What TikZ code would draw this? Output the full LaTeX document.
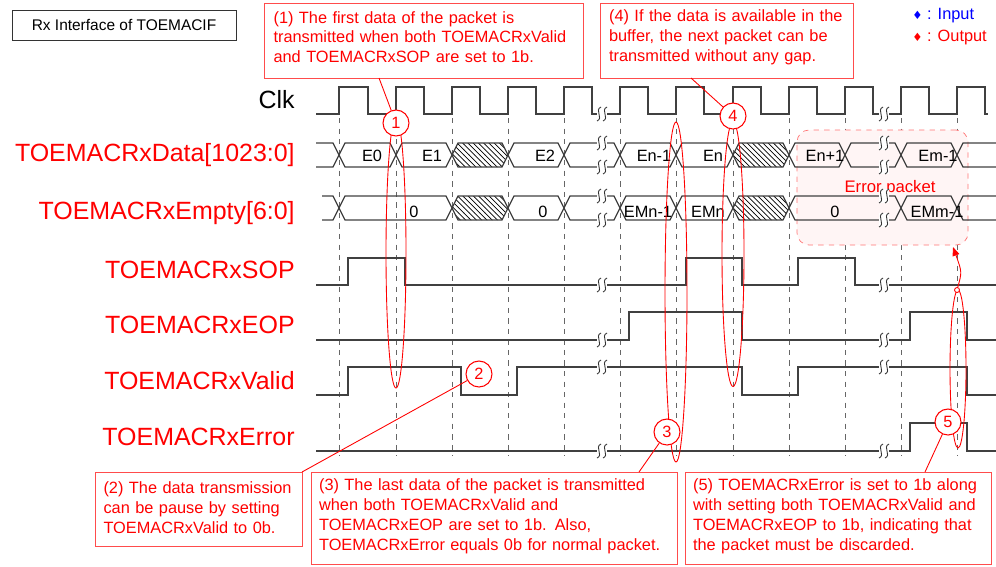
\documentclass[tikz,border=0pt]{standalone}
\usepackage{fontspec}
\setmainfont{Liberation Sans}
\newfontfamily\djv{DejaVu Sans}
\usetikzlibrary{shapes.geometric,patterns,arrows.meta}
\newcommand{\hexa}[4][]{\draw[sig,#1] (#2,#4) -- ({#2+6},{#4-12}) -- ({#3-6},{#4-12}) -- (#3,#4) -- ({#3-6},{#4+12}) -- ({#2+6},{#4+12}) -- cycle;}
\newcommand{\brk}[2]{\fill[white] ({#1-5},{#2-7}) rectangle ({#1+5},{#2+7});
 \draw[line width=0.5pt,black!80] ({#1-5},{#2+7}) .. controls ({#1+2},{#2+4}) and ({#1-8},{#2-4}) .. ({#1-1},{#2-7});
 \draw[line width=0.5pt,black!80] ({#1+1},{#2+7}) .. controls ({#1+8},{#2+4}) and ({#1-2},{#2-4}) .. ({#1+5},{#2-7});}
\begin{document}
\begin{tikzpicture}[x=0.02cm,y=-0.02cm,
 sig/.style={line width=0.7pt,black!75},
 grid/.style={dashed,black!60,line width=0.5pt},
 lab/.style={text=red,font=\fontsize{14.2}{16}\selectfont,anchor=east,inner sep=0},
 bl/.style={font=\fontsize{9.3}{10}\selectfont,inner sep=0},
 cbox/.style={draw=red!70,line width=0.6pt,text=red,align=left,font=\fontsize{9.3}{11.3}\selectfont,inner sep=0,anchor=north west},
 circ/.style={circle,draw=red,line width=0.6pt,text=red,minimum size=0.52cm,inner sep=0,font=\fontsize{9.3}{10}\selectfont,fill=white},
 ell/.style={ellipse,draw=red,line width=0.5pt,inner sep=0},
 cl/.style={red,line width=0.5pt}]
\useasboundingbox (0,0) rectangle (996,566);
% grid
\foreach \x in {339,396,452,508,564,620,676,733,789,845,901,957}
  \draw[grid] (\x,118) -- (\x,456);
% error packet region
\node[draw=red!55,dashed,rounded corners=0.24cm,fill=red!4,minimum width=3.42cm,minimum height=2.3cm,inner sep=0] (ep) at (882.5,187.5) {};
\node[text=red,font=\fontsize{9.5}{10}\selectfont] (eptxt) at (890,188) {Error packet};
% title & legend
\node[draw=black!80,minimum width=4.48cm,minimum height=0.6cm,font=\fontsize{8.8}{10}\selectfont,inner sep=0] (title) at (124,25) {Rx Interface of TOEMACIF};
\node[anchor=west,text=blue,font=\fontsize{9.3}{10}\selectfont,inner sep=0] (lin) at (912,16) {{\djv\fontsize{6.5}{7}\selectfont ♦} : Input};
\node[anchor=west,text=red,font=\fontsize{9.3}{10}\selectfont,inner sep=0] (lout) at (912,37) {{\djv\fontsize{6.5}{7}\selectfont ♦} : Output};
% labels
\node[lab,text=black] (lclk) at (295,100) {Clk};
\node[lab] (ldata) at (295,155) {TOEMACRxData[1023:0]};
\node[lab] (lempty) at (295,213) {TOEMACRxEmpty[6:0]};
\node[lab] (lsop) at (295,270) {TOEMACRxSOP};
\node[lab] (leop) at (295,325) {TOEMACRxEOP};
\node[lab] (lval) at (295,381) {TOEMACRxValid};
\node[lab] (lerr) at (295,437) {TOEMACRxError};
% clock
\draw[sig] (316,114) -- (339,114) -- (339,87) -- (368,87) -- (368,114) -- (396,114) -- (396,87) -- (424,87) -- (424,114)
 -- (452,114) -- (452,87) -- (480,87) -- (480,114) -- (508,114) -- (508,87) -- (536,87) -- (536,114)
 -- (564,114) -- (564,87) -- (592,87) -- (592,114) -- (620,114) -- (620,87) -- (648,87) -- (648,114)
 -- (676,114) -- (676,87) -- (704,87) -- (704,114) -- (733,114) -- (733,87) -- (761,87) -- (761,114)
 -- (789,114) -- (789,87) -- (817,87) -- (817,114) -- (845,114) -- (845,87) -- (873,87) -- (873,114)
 -- (901,114) -- (901,87) -- (929,87) -- (929,114) -- (957,114) -- (957,87) -- (985,87) -- (985,114) -- (988,114);
% data bus
\draw[sig] (316,143) -- (333,143) -- (339,155) -- (333,167) -- (316,167);
\hexa{339}{396}{155}\hexa{396}{452}{155}\hexa[pattern=north west lines]{452}{508}{155}\hexa{508}{564}{155}
\hexa{564}{620}{155}\hexa{620}{676}{155}\hexa{676}{733}{155}\hexa[pattern=north west lines]{733}{789}{155}
\hexa{789}{845}{155}\hexa{845}{901}{155}\hexa{901}{957}{155}
\draw[sig] (996,143) -- (963,143) -- (957,155) -- (963,167) -- (996,167);
% empty bus
\draw[sig] (322,196) -- (333,196) -- (339,208) -- (333,220) -- (322,220);
\hexa{339}{452}{208}\hexa[pattern=north west lines]{452}{508}{208}\hexa{508}{564}{208}
\hexa{564}{620}{208}\hexa{620}{676}{208}\hexa{676}{733}{208}\hexa[pattern=north west lines]{733}{789}{208}
\hexa{789}{901}{208}\hexa{901}{957}{208}
\draw[sig] (996,196) -- (963,196) -- (957,208) -- (963,220) -- (996,220);
% bus texts
\node[bl] (d0) at (372,156) {E0};
\node[bl] (d1) at (432,156) {E1};
\node[bl] (d2) at (545,156) {E2};
\node[bl] (d3) at (654,156) {En-1};
\node[bl] (d4) at (713,156) {En};
\node[bl] (d5) at (825,156) {En+1};
\node[bl] (d6) at (938,156) {Em-1};
\node[bl] (m0) at (414,212) {0};
\node[bl] (m1) at (543,212) {0};
\node[bl] (m2) at (648,212) {EMn-1};
\node[bl] (m3) at (708,212) {EMn};
\node[bl] (m4) at (835,212) {0};
\node[bl] (m5) at (937,212) {EMm-1};
% SOP
\draw[sig] (316,285) -- (348,285) -- (348,258) -- (405,258) -- (405,285) -- (686,285) -- (686,258) -- (742,258) -- (742,285)
 -- (798,285) -- (798,258) -- (855,258) -- (855,285) -- (996,285);
% EOP
\draw[sig] (316,340) -- (629,340) -- (629,312) -- (742,312) -- (742,340) -- (910,340) -- (910,312) -- (967,312) -- (967,340) -- (996,340);
% Valid
\draw[sig] (316,395) -- (348,395) -- (348,367) -- (461,367) -- (461,395) -- (517,395) -- (517,367) -- (742,367) -- (742,395)
 -- (798,395) -- (798,367) -- (967,367) -- (967,395) -- (996,395);
% Error
\draw[sig] (316,451) -- (910,451) -- (910,423) -- (967,423) -- (967,451) -- (996,451);
% breaks
\foreach \y in {114,143,167,196,220,285,340,367,451} {\brk{602}{\y}\brk{884}{\y}}
% ellipses
\node[ell,minimum width=0.4cm,minimum height=5.4cm] (e1) at (396,253) {};
\node[ell,minimum width=0.44cm,minimum height=5.3cm] (e4) at (733,254) {};
\node[ell,minimum width=0.44cm,minimum height=6.8cm] (e3) at (676,292) {};
\node[ell,minimum width=0.32cm,minimum height=3.16cm] (e5) at (958,369) {};
% circles
\node[circ] (c1) at (396,123) {1};
\node[circ] (c4) at (733,116) {4};
\node[circ] (c2) at (479,374) {2};
\node[circ] (c3) at (667,432) {3};
\node[circ] (c5) at (948,422) {5};
% arrow from ellipse 5 to error packet
\node[circle,draw=red,line width=0.5pt,minimum size=0.1cm,inner sep=0,fill=white] (sc) at (957,290) {};
\coordinate (ept) at (953,247);
\draw[cl,-{Triangle[length=5pt,width=4pt]}] (sc) .. controls (962,272) .. (ept);
% callout boxes
\node[cbox,minimum width=6.38cm,minimum height=1.5cm,text width=6.3cm] (b1) at (264,3) {\\[-9pt]\hspace*{4pt}(1) The first data of the packet is\\\hspace*{4pt}transmitted when both TOEMACRxValid\\\hspace*{4pt}and TOEMACRxSOP are set to 1b.};
\node[cbox,minimum width=5.06cm,minimum height=1.5cm,text width=5cm] (b4) at (600,3) {\\[-9pt]\hspace*{4pt}(4) If the data is available in the\\\hspace*{4pt}buffer, the next packet can be\\\hspace*{4pt}transmitted without any gap.};
\node[cbox,minimum width=4.14cm,minimum height=1.48cm,text width=4.1cm] (b2) at (95,472) {\\[-7pt]\hspace*{4pt}(2) The data transmission\\\hspace*{4pt}can be pause by setting\\\hspace*{4pt}TOEMACRxValid to 0b.};
\node[cbox,minimum width=7.32cm,minimum height=1.84cm,text width=7.3cm] (b3) at (311,472) {\\[-7pt]\hspace*{4pt}(3) The last data of the packet is transmitted\\\hspace*{4pt}when both TOEMACRxValid and\\\hspace*{4pt}TOEMACRxEOP are set to 1b. Also,\\\hspace*{4pt}TOEMACRxError equals 0b for normal packet.};
\node[cbox,minimum width=6.12cm,minimum height=1.84cm,text width=6.1cm] (b5) at (685,472) {\\[-7pt]\hspace*{4pt}(5) TOEMACRxError is set to 1b along\\\hspace*{4pt}with setting both TOEMACRxValid and\\\hspace*{4pt}TOEMACRxEOP to 1b, indicating that\\\hspace*{4pt}the packet must be discarded.};
% callout lines
\coordinate (p1) at (379,78);
\coordinate (p4) at (691,78);
\coordinate (p2) at (302,472);
\coordinate (p3) at (639,472);
\coordinate (p5) at (925,472);
\draw[cl] (p1) -- (c1);
\draw[cl] (p4) -- (c4);
\draw[cl] (p2) -- (c2);
\draw[cl] (p3) -- (c3);
\draw[cl] (p5) -- (c5);
\end{tikzpicture}
\end{document}
